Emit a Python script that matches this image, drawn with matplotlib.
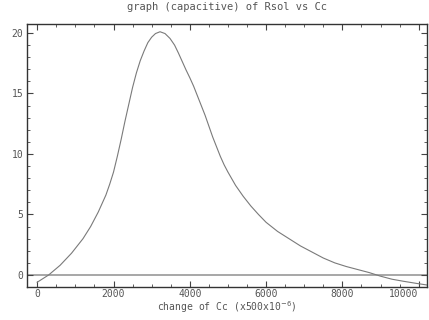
import matplotlib
matplotlib.use("Agg")
import matplotlib.pyplot as plt
from matplotlib.ticker import MultipleLocator

# values
cc_change = [0, 300, 600, 900, 1200, 1400, 1500, 1600, 1700, 1800, 1900,
             2000, 2100, 2200, 2300, 2400, 2500, 2600, 2700, 2800, 2900,
             3000, 3100, 3220, 3350, 3480, 3600, 3700, 3800, 3900, 4000,
             4100, 4200, 4300, 4400, 4500, 4600, 4700, 4800, 4900, 5000,
             5200, 5400, 5600, 5800, 6000, 6300, 6600, 6900, 7200, 7500,
             7800, 8100, 8400, 8700, 9000, 9300, 9600, 9950, 10220]
capacitive = [-0.6, 0.0, 0.8, 1.8, 3.0, 4.0, 4.6, 5.2, 5.9, 6.6, 7.5,
              8.5, 9.8, 11.2, 12.7, 14.1, 15.5, 16.7, 17.7, 18.5, 19.2,
              19.65, 19.95, 20.1, 19.95, 19.55, 19.0, 18.35, 17.65, 16.95, 16.3,
              15.6, 14.8, 14.0, 13.2, 12.3, 11.4, 10.6, 9.8, 9.1, 8.5,
              7.4, 6.5, 5.7, 5.0, 4.35, 3.6, 3.0, 2.4, 1.9, 1.4,
              1.0, 0.7, 0.45, 0.2, -0.1, -0.35, -0.52, -0.7, -0.83]

x_ticks = [0, 2000, 4000, 6000, 8000, 10000]
y_ticks = [0, 5, 10, 15, 20]

plt.rcParams["font.family"] = ["DejaVu Sans Mono"]
plt.rcParams["font.size"] = 7

fig = plt.figure(figsize=(4.29, 3.2), dpi=100)
ax = fig.add_axes([0.0636, 0.104, 0.932, 0.821])

ax.axhline(0, color="#a0a0a0", lw=1.3, zorder=1)
ax.plot(cc_change, capacitive, color="#7a7a7a", lw=0.8, zorder=2)

ax.set_xlim(-260, 10220)
ax.set_ylim(-0.97, 20.74)
ax.set_xticks(x_ticks)
ax.set_yticks(y_ticks)
ax.xaxis.set_minor_locator(MultipleLocator(500))
ax.yaxis.set_minor_locator(MultipleLocator(1))
ax.tick_params(which="both", direction="in", top=True, right=True,
               colors="#444444", labelcolor="#555555")
ax.tick_params(which="major", length=4, pad=3)
ax.tick_params(axis="x", which="major", pad=2)
ax.tick_params(which="minor", length=2)
labels = ax.get_xticklabels()
labels[-1].set_horizontalalignment("right")

for s in ax.spines.values():
    s.set_color("#333333")
    s.set_linewidth(1.0)

ax.set_title("graph (capacitive) of Rsol vs Cc", fontsize=7.5,
             color="#555555", pad=10)
ax.set_xlabel("change of Cc (x500x10$^{-6}$)", color="#555555", labelpad=0)

fig.savefig("out.png", dpi=100)
